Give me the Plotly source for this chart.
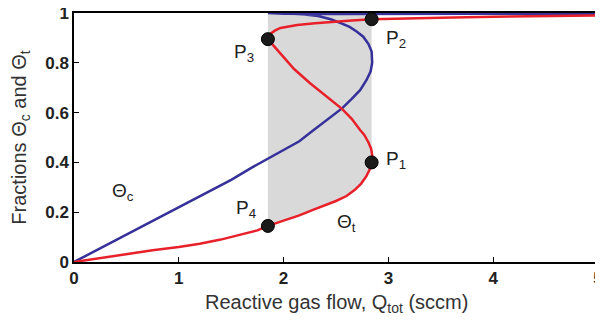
import plotly.graph_objects as go

# Red curve: Theta_t (S-shaped hysteresis path)
theta_t_x = [0, 0.15, 0.3, 0.5, 0.75, 1.0, 1.2, 1.4, 1.6, 1.75, 1.85,
             2.0, 2.15, 2.28, 2.4, 2.5, 2.6, 2.68, 2.74, 2.79, 2.82, 2.84,
             2.845, 2.835, 2.81, 2.77, 2.73, 2.65, 2.56, 2.4, 2.25, 2.1, 1.94, 1.89, 1.85,
             1.87, 1.92, 1.97, 2.05, 2.13, 2.3, 2.44, 2.65, 2.84, 3.0, 3.5, 4.0, 4.5, 5.0]
theta_t_y = [0, 0.01, 0.02, 0.033, 0.047, 0.06, 0.073, 0.09, 0.11, 0.127, 0.145,
             0.165, 0.187, 0.209, 0.228, 0.245, 0.265, 0.29, 0.315, 0.345, 0.37, 0.40,
             0.43, 0.455, 0.48, 0.51, 0.53, 0.575, 0.614, 0.668, 0.719, 0.775, 0.851, 0.875, 0.895,
             0.915, 0.93, 0.94, 0.947, 0.952, 0.959, 0.964, 0.97, 0.975, 0.977, 0.981, 0.985, 0.988, 0.99]

# Blue curve: Theta_c
theta_c_x = [0, 0.25, 0.5, 0.75, 1.0, 1.25, 1.5, 1.7, 1.85, 2.0, 2.15, 2.25, 2.35, 2.46, 2.56,
             2.65, 2.73, 2.79, 2.83, 2.845, 2.84, 2.81, 2.76, 2.7, 2.63, 2.54, 2.45, 2.33, 2.2,
             2.0, 1.85, 2.0, 2.5, 3.0, 4.0, 5.0]
theta_c_y = [0, 0.055, 0.108, 0.162, 0.217, 0.272, 0.33, 0.38, 0.415, 0.447, 0.485, 0.518, 0.55, 0.583, 0.618,
             0.655, 0.69, 0.73, 0.765, 0.80, 0.845, 0.875, 0.905, 0.925, 0.944, 0.96, 0.975, 0.988, 0.994,
             0.998, 1.0, 0.997, 0.996, 0.997, 0.997, 0.997]

# Marked points
pt_labels = ["P<sub>1</sub>", "P<sub>2</sub>", "P<sub>3</sub>", "P<sub>4</sub>"]
pt_x = [2.84, 2.84, 1.85, 1.85]
pt_y = [0.40, 0.975, 0.895, 0.145]

RED = "#e8202a"
BLUE = "#35309a"
FONT = "Liberation Sans, Arial, sans-serif"

fig = go.Figure()

# Gray hysteresis region: from P4 along lower red branch to P1, up to y=1
i4 = theta_t_x.index(1.85)
i1 = 21
fill_x = [pt_x[3]] + theta_t_x[i4:i1 + 1] + [pt_x[0], pt_x[3]]
fill_y = [1.0] + theta_t_y[i4:i1 + 1] + [1.0, 1.0]
fig.add_trace(go.Scatter(x=fill_x, y=fill_y, fill="toself", fillcolor="#d9d9d9",
                         line=dict(width=0), mode="lines", hoverinfo="skip", showlegend=False))

fig.add_trace(go.Scatter(x=theta_c_x, y=theta_c_y, mode="lines",
                         line=dict(color=BLUE, width=2.5),
                         showlegend=False))
fig.add_trace(go.Scatter(x=theta_t_x, y=theta_t_y, mode="lines",
                         line=dict(color=RED, width=2.5),
                         showlegend=False))

fig.add_trace(go.Scatter(x=pt_x, y=pt_y, mode="markers",
                         marker=dict(color="#1a1a1a", size=13, line=dict(color="black", width=1)),
                         showlegend=False))

# Point labels
offsets = [(24, 2), (24, -20), (-24, -14), (-22, 17)]
for lab, x, y, (dx, dy) in zip(pt_labels, pt_x, pt_y, offsets):
    fig.add_annotation(x=x, y=y, text=lab, showarrow=False, xshift=dx, yshift=dy,
                       font=dict(family=FONT, size=19, color="#222"))

fig.add_annotation(x=0.47, y=0.28, text="Θ<sub>c</sub>", showarrow=False,
                   font=dict(family=FONT, size=19, color="#222"))
fig.add_annotation(x=2.6, y=0.155, text="Θ<sub>t</sub>", showarrow=False,
                   font=dict(family=FONT, size=19, color="#222"))

# x-axis title placed as an annotation below the tick labels
fig.add_annotation(xref="paper", yref="paper", x=0.5, y=0, yshift=-41, yanchor="middle",
                   text="Reactive gas flow, Q<sub>tot</sub> (sccm)", showarrow=False,
                   font=dict(family=FONT, size=20, color="#333"))

# page adds an 8px body margin, so the figure is sized to fit the window
fig.update_layout(
    width=595, height=316,
    margin=dict(l=66, r=5, t=5, b=62, autoexpand=False),
    plot_bgcolor="white", paper_bgcolor="white",
    font=dict(family=FONT, color="#222"),
)
fig.update_xaxes(range=[0, 5], tickvals=[0, 1, 2, 3, 4, 5], showgrid=False, zeroline=False,
                 showline=True, linecolor="black", linewidth=1.5, mirror=True, automargin=False,
                 ticks="inside", ticklen=5, tickcolor="black", ticklabeloverflow="allow",
                 tickfont=dict(family=FONT, size=17, weight="bold", color="#222"))
fig.update_yaxes(range=[0, 1], tickvals=[0, 0.2, 0.4, 0.6, 0.8, 1],
                 ticktext=["0", "0.2", "0.4", "0.6", "0.8", "1"],
                 showgrid=False, zeroline=False, automargin=False,
                 showline=True, linecolor="black", linewidth=1.5, mirror=True,
                 ticks="inside", ticklen=5, tickcolor="black", ticklabeloverflow="allow",
                 tickfont=dict(family=FONT, size=17, weight="bold", color="#222"),
                 title=dict(text="Fractions Θ<sub>c</sub> and Θ<sub>t</sub>",
                            font=dict(family=FONT, size=20, color="#333")))

fig.write_html("out.html")
